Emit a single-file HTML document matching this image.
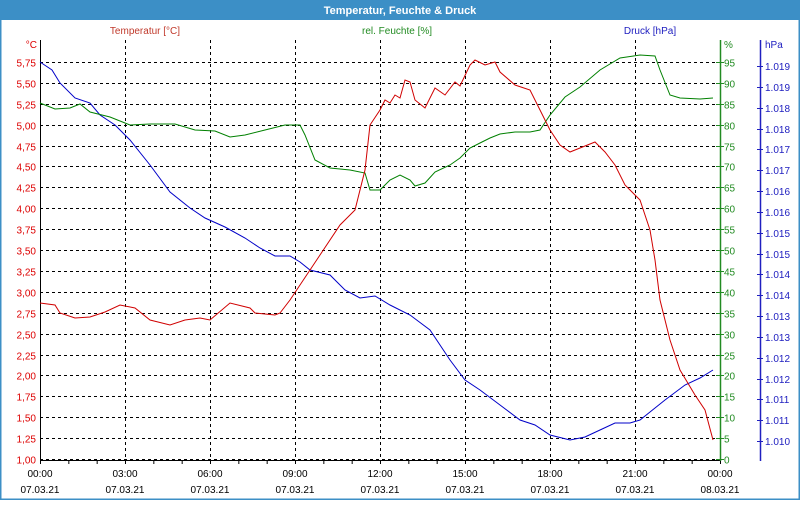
<!DOCTYPE html>
<html><head><style>
body{margin:0;width:800px;height:500px;overflow:hidden;background:#fff;font-family:"Liberation Sans",sans-serif}
</style></head><body>
<svg width="800" height="500" xmlns="http://www.w3.org/2000/svg" font-family="Liberation Sans, sans-serif" font-size="10">
<rect x="0" y="0" width="800" height="500" fill="#fff"/>
<rect x="0.5" y="0.5" width="799" height="499" fill="none" stroke="#3c8fc6" stroke-width="2"/>
<rect x="0" y="0" width="800" height="20" fill="#3c8fc6"/>
<text x="400" y="14" fill="#fff" font-weight="bold" font-size="11" text-anchor="middle">Temperatur, Feuchte &amp; Druck</text>
<text x="145" y="34" fill="#c0392b" text-anchor="middle">Temperatur [°C]</text>
<text x="397" y="34" fill="#228b22" text-anchor="middle">rel. Feuchte [%]</text>
<text x="650" y="34" fill="#2020c0" text-anchor="middle">Druck [hPa]</text>
<g stroke="#000" stroke-dasharray="3,3" stroke-width="1">
<path id="h" d=""/>
</g>
<g id="grid" stroke="#000" stroke-width="1" stroke-dasharray="3,3"></g>
<g id="labels"></g>
<line x1="40.5" y1="40" x2="40.5" y2="461" stroke="#000"/>
<line x1="40" y1="460.5" x2="720" y2="460.5" stroke="#000"/>
<line x1="720.5" y1="40" x2="720.5" y2="461" stroke="#228b22" stroke-width="1.5"/>
<line x1="760.5" y1="40" x2="760.5" y2="461" stroke="#2020c0" stroke-width="1.5"/>
<text x="37" y="48" fill="#d00" text-anchor="end">°C</text>
<text x="724" y="48" fill="#228b22">%</text>
<text x="765" y="48" fill="#2020c0">hPa</text>
<polyline fill="none" stroke="#0000c8" stroke-width="1" points="40,62 52,70 60,83 75,98 90,103 100,115 115,125 130,140 150,165 170,192 190,208 205,218 225,227 245,238 260,248 275,256 290,256 300,262 310,270 330,275 345,290 360,298 375,296 390,305 410,315 430,330 450,360 465,380 480,390 500,405 520,420 535,425 550,435 570,440 585,437 600,430 615,423 630,423 640,420 650,412 665,400 685,385 700,378 713,370"/>
<polyline fill="none" stroke="#008000" stroke-width="1" points="40,103 55,109 70,108 80,104 90,112 110,117 130,125 150,124 175,124 195,130 215,131 230,137 245,135 265,130 285,125 300,125 305,135 315,160 330,168 350,170 365,173 370,190 380,190 390,180 400,175 410,180 415,186 425,183 435,172 450,165 460,158 470,148 480,143 490,138 500,134 515,132 530,132 540,130 550,115 565,97 580,87 600,70 620,58 640,55 655,56 660,70 670,95 680,98 700,99 713,98"/>
<polyline fill="none" stroke="#d00000" stroke-width="1" points="40,303 55,305 60,313 75,318 90,317 105,312 120,305 135,308 150,320 170,325 185,320 200,318 210,320 230,303 250,308 255,313 275,315 280,313 290,300 300,285 320,255 340,225 355,210 365,170 370,125 380,110 385,100 390,103 395,95 400,98 405,80 410,82 415,100 425,108 435,88 445,95 455,82 460,86 470,65 475,60 485,65 495,62 500,72 515,85 530,90 540,110 550,130 560,145 570,152 580,148 595,142 605,152 615,165 625,185 640,200 650,230 655,260 660,300 670,340 680,370 695,395 705,410 713,440"/>
</svg>
<script>
var s='http://www.w3.org/2000/svg',g=document.getElementById('grid'),L=document.getElementById('labels');
function el(p,t,a,txt){var e=document.createElementNS(s,t);for(var k in a)e.setAttribute(k,a[k]);if(txt)e.textContent=txt;p.appendChild(e);return e;}
for(var i=0;i<20;i++){var y=Math.round(459-i*20.9)+0.5;
 el(g,'line',{x1:40,y1:y,x2:720,y2:y});
 el(L,'text',{x:36,y:y+4,fill:'#d00','text-anchor':'end'},(1+i*0.25).toFixed(2).replace('.',','));
 el(L,'text',{x:724,y:y+4,fill:'#228b22'},String(i*5));
 el(L,'line',{x1:716,y1:y,x2:724,y2:y,stroke:'#228b22'});
}
for(var i=0;i<19;i++){var y=Math.round(441-i*20.83);
 el(L,'text',{x:765,y:y+4,fill:'#2020c0'},'1.0'+(10+Math.floor((i+1)/2)));
 el(L,'line',{x1:757,y1:y+0.5,x2:763,y2:y+0.5,stroke:'#2020c0'});
}
var times=['00:00','03:00','06:00','09:00','12:00','15:00','18:00','21:00','00:00'];
for(var i=0;i<9;i++){var x=40+i*85;
 if(i>0&&i<8)el(g,'line',{x1:x+0.5,y1:40,x2:x+0.5,y2:460});
 el(L,'text',{x:x,y:477,fill:'#000','text-anchor':'middle'},times[i]);
 el(L,'text',{x:x,y:493,fill:'#000','text-anchor':'middle'},i==8?'08.03.21':'07.03.21');
}
for(var i=0;i<=24;i++){var x=40+i*85/3+0.5;el(L,'line',{x1:x,y1:460,x2:x,y2:464,stroke:'#000'});}
</script>
</body></html>
